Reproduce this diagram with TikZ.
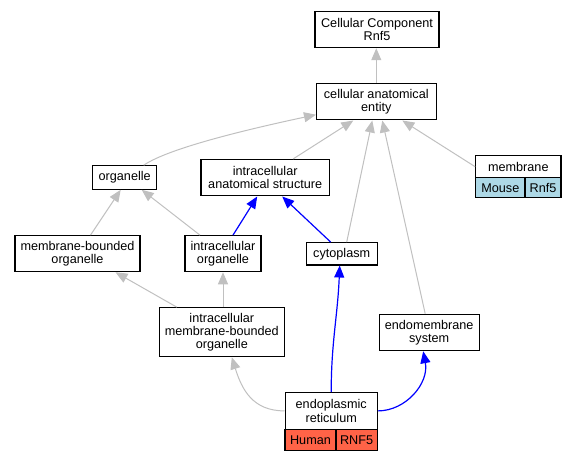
\documentclass[tikz,border=0pt]{standalone}
\usepackage{fontspec}
\setmainfont{Liberation Sans}
\usetikzlibrary{arrows.meta}
\definecolor{edgegrey}{RGB}{192,192,192}
\definecolor{mouseblue}{RGB}{173,216,230}
\definecolor{humanred}{RGB}{255,99,71}

\begin{document}
\begin{tikzpicture}[x=1bp,y=-1bp,
  term/.style={draw,line width=1.1bp,inner sep=0pt,align=center,fill=white,
    font=\fontsize{12.7}{13.5}\selectfont},
  isa/.style={draw=edgegrey,line width=1bp,-{Triangle[length=12bp,width=10bp]},edgegrey},
  partof/.style={draw=blue,line width=1.2bp,-{Triangle[length=12bp,width=10bp]},blue}]
\useasboundingbox (0,0) rectangle (577,461);
\node[term,minimum width=124bp,minimum height=36bp] (ccr) at (377,29.7) {Cellular Component\\Rnf5};
\node[term,minimum width=119.5bp,minimum height=36.5bp] (cae) at (376.3,101.7) {cellular anatomical\\entity};
\node[term,minimum width=64bp,minimum height=23.5bp] (org) at (124.7,177.5) {organelle};
\node[term,minimum width=128.5bp,minimum height=36.5bp] (ias) at (265.2,177.7) {intracellular\\anatomical structure};
\node[term,minimum width=85.3bp,minimum height=22bp] (mem) at (518.3,166.7) {membrane};
\node[term,fill=mouseblue,minimum width=49.3bp,minimum height=20.3bp] (mouse) at (500.3,187.8) {Mouse};
\node[term,fill=mouseblue,minimum width=36bp,minimum height=20.3bp] (mrnf) at (543,187.8) {Rnf5};
\node[term,minimum width=125bp,minimum height=36bp] (mbo) at (77.5,253.7) {membrane-bounded\\organelle};
\node[term,minimum width=76bp,minimum height=36bp] (io) at (223,253.7) {intracellular\\organelle};
\node[term,minimum width=71.3bp,minimum height=22.3bp] (cyto) at (341.7,253.8) {cytoplasm};
\node[term,minimum width=125bp,minimum height=49bp] (imbo) at (221.8,332.2) {intracellular\\membrane-bounded\\organelle};
\node[term,minimum width=99.7bp,minimum height=36.4bp] (endo) at (429.2,332.5) {endomembrane\\system};
\node[term,minimum width=92.3bp,minimum height=36.3bp] (er) at (331.2,410.9) {endoplasmic\\reticulum};
\node[term,fill=humanred,minimum width=51bp,minimum height=21.7bp] (human) at (310.5,439.9) {Human};
\node[term,fill=humanred,minimum width=41.3bp,minimum height=21.7bp] (hrnf) at (356.6,439.9) {RNF5};

\draw[isa] (cae.north) -- (cae.north |- ccr.south);
\draw[isa] ([xshift=19bp]org.north) .. controls +(25,-17) and +(-70,15) .. ([yshift=-13bp]cae.west);
\draw[isa] ([xshift=28bp]ias.north) -- ([xshift=-23bp]cae.south);
\draw[isa] ([xshift=5bp]cyto.north) -- ([xshift=-4bp]cae.south);
\draw[isa] ([xshift=-4bp]endo.north) -- ([xshift=6bp]cae.south);
\draw[isa] (mem.west) -- ([xshift=26bp]cae.south);
\draw[isa] ([xshift=13bp]mbo.north) -- ([xshift=-4bp]org.south);
\draw[isa] ([xshift=-23bp]io.north) -- ([xshift=17bp]org.south);
\draw[partof] ([xshift=10bp]io.north) -- ([xshift=-8bp]ias.south);
\draw[partof] ([xshift=-11bp]cyto.north) -- ([xshift=17bp]ias.south);
\draw[isa] ([xshift=-45bp]imbo.north) -- ([xshift=38bp]mbo.south);
\draw[isa] (io.south |- imbo.north) -- (io.south);
\draw[isa] (er.west) .. controls +(-32,0) and +(10,32) .. ([xshift=10bp]imbo.south);
\draw[partof] (er.north) .. controls +(0,-50) and +(-2,50) .. ([xshift=-2bp]cyto.south);
\draw[partof] (er.east) .. controls +(28,0) and +(6,32) .. ([xshift=-6bp]endo.south);
\end{tikzpicture}
\end{document}
